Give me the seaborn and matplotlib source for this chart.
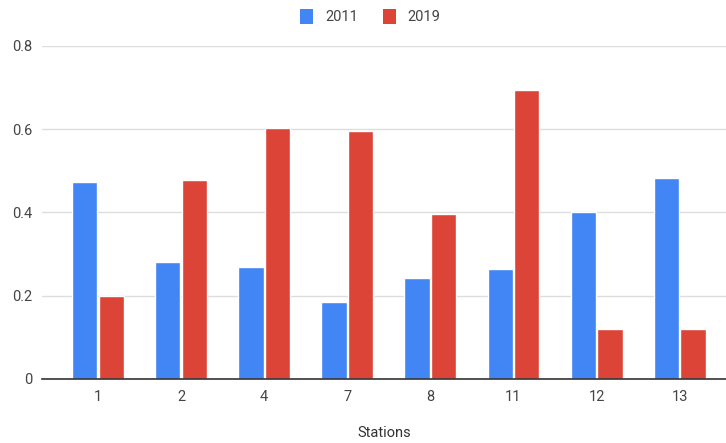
import matplotlib
matplotlib.use("Agg")
import matplotlib.pyplot as plt
import seaborn as sns
import pandas as pd
from matplotlib.patches import Patch

stations = ["1", "2", "4", "7", "8", "11", "12", "13"]
values_2011 = [0.473, 0.281, 0.269, 0.185, 0.243, 0.263, 0.400, 0.483]
values_2019 = [0.200, 0.477, 0.604, 0.595, 0.395, 0.693, 0.120, 0.120]
years = ["2011", "2019"]
colors = ["#4285F4", "#DB4437"]

df = pd.DataFrame({
    "Stations": stations * 2,
    "value": values_2011 + values_2019,
    "year": [years[0]] * len(stations) + [years[1]] * len(stations),
})

sns.set_theme(style="white")
plt.rcParams["font.family"] = ["Roboto", "DejaVu Sans"]

fig = plt.figure(figsize=(7.26, 4.43), dpi=100)
ax = fig.add_axes([42 / 726, (443 - 378.7) / 443, 1 - 42 / 726, (378.7 - 46) / 443])

sns.barplot(data=df, x="Stations", y="value", hue="year", order=stations,
            hue_order=years, palette=colors, width=0.64, gap=0.05,
            saturation=1, ax=ax, legend=False)

ax.set_ylim(0, 0.8)
ax.set_xlim(-0.674, 7.557)
ax.set_yticks([0, 0.2, 0.4, 0.6, 0.8])
ax.set_yticklabels(["0", "0.2", "0.4", "0.6", "0.8"])
ax.yaxis.grid(True, color="#dddddd", linewidth=1)
ax.set_axisbelow(True)
for side in ["top", "right", "left"]:
    ax.spines[side].set_visible(False)
ax.spines["bottom"].set_color("#333333")
ax.spines["bottom"].set_linewidth(1.2)
ax.tick_params(axis="both", length=0, labelsize=10.5, labelcolor="#444444")
ax.tick_params(axis="y", pad=7)
ax.tick_params(axis="x", pad=8)
ax.set_ylabel("")
ax.set_xlabel("Stations", fontsize=10.5, color="#333333", labelpad=16)

handles = [Patch(facecolor=c, edgecolor="none") for c in colors]
fig.legend(handles, years, loc="center", bbox_to_anchor=(0.51, 0.963), ncol=2,
           frameon=False, fontsize=10.5, labelcolor="#444444",
           handlelength=0.9, handleheight=1.2, columnspacing=1.7, handletextpad=0.8)

fig.savefig("out.png", dpi=100)
